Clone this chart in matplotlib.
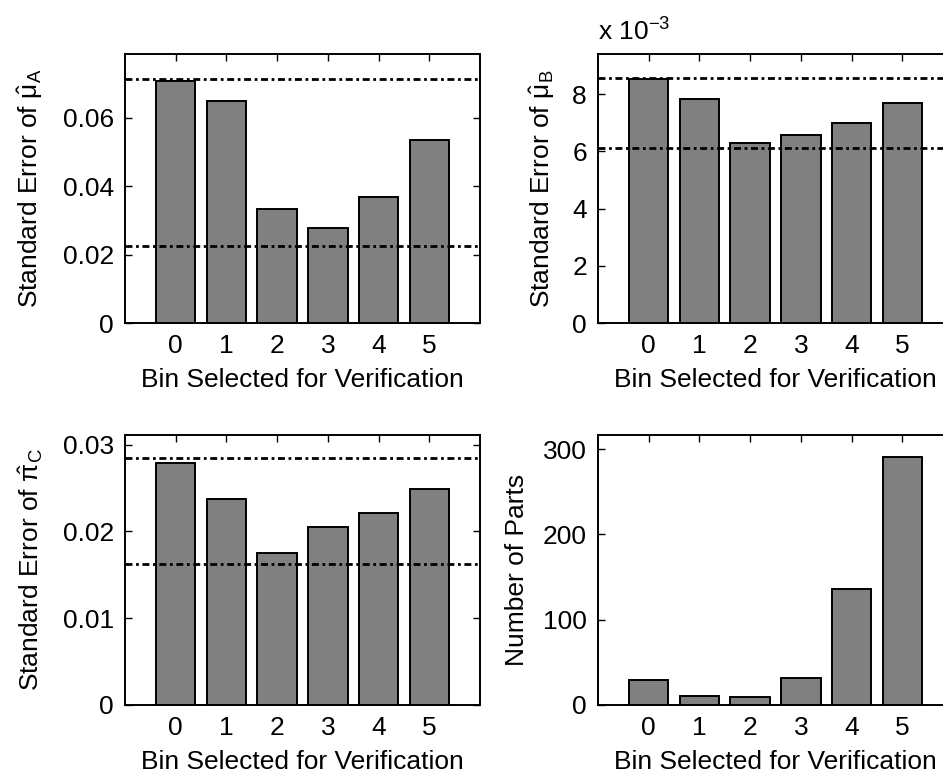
import numpy as np
import matplotlib
matplotlib.use("Agg")
import matplotlib.pyplot as plt

plt.rcParams['font.family'] = ['Liberation Sans', 'DejaVu Sans']
plt.rcParams['mathtext.fontset'] = 'custom'
plt.rcParams['mathtext.rm'] = 'Liberation Sans'
plt.rcParams['mathtext.it'] = 'Liberation Sans'
plt.rcParams['font.size'] = 19

bins = [0, 1, 2, 3, 4, 5]

# standard errors per bin selected for verification
se_muA = [0.0707, 0.0649, 0.0332, 0.0279, 0.0367, 0.0536]
se_muB = [8.53e-3, 7.83e-3, 6.28e-3, 6.57e-3, 6.98e-3, 7.68e-3]
se_piC = [0.02788, 0.02372, 0.0175, 0.0205, 0.0221, 0.0249]
n_parts = [29, 11, 9, 32, 136, 291]

# reference lines (upper / lower)
ref_muA = [0.0714, 0.0225]
ref_muB = [8.55e-3, 6.11e-3]
ref_piC = [0.0284, 0.01626]

fig = plt.figure(figsize=(9.43, 7.76), dpi=100)

W = 355 / 943
H_ = 269 / 776
ax1 = fig.add_axes([125 / 943, 1 - 323 / 776, W, H_])
ax2 = fig.add_axes([598 / 943, 1 - 323 / 776, W, H_])
ax3 = fig.add_axes([125 / 943, 1 - 705 / 776, W, H_ + 1 / 776])
ax4 = fig.add_axes([598 / 943, 1 - 705 / 776, W, H_ + 1 / 776])

dash = (0, (2.5, 1.3, 1, 1.3))


def draw(ax, vals, ylim, yticks, ylabel, refs=None, scale=1.0, lpad=13):
    v = np.array(vals) / scale
    ax.bar(bins, v, width=0.78, color='#808080', edgecolor='black', linewidth=1.4, zorder=2)
    if refs is not None:
        for r in refs:
            ax.axhline(r / scale, color='black', linestyle=dash, linewidth=2.0, zorder=3)
    ax.set_xlim(-1, 6)
    ax.set_ylim(*ylim)
    ax.set_xticks(bins)
    ax.set_yticks(yticks)
    ax.tick_params(direction='in', length=5, width=1, top=True, right=True, pad=8)
    for s in ax.spines.values():
        s.set_linewidth(1.4)
    ax.set_xlabel('Bin Selected for Verification', labelpad=7)
    ax.set_ylabel(ylabel, labelpad=lpad)


draw(ax1, se_muA, (0, 0.0786), [0, 0.02, 0.04, 0.06],
     r'Standard Error of $\hat{\mu}_A$', ref_muA)
ax1.set_yticklabels(['0', '0.02', '0.04', '0.06'])

draw(ax2, se_muB, (0, 9.4), [0, 2, 4, 6, 8],
     r'Standard Error of $\hat{\mu}_B$', ref_muB, scale=1e-3, lpad=11)
ax2.text(0.0, 1.03, r'x 10$^{-3}$', transform=ax2.transAxes, ha='left', va='bottom')

draw(ax3, se_piC, (0, 0.0311), [0, 0.01, 0.02, 0.03],
     r'Standard Error of $\hat{\pi}_C$', ref_piC)
ax3.set_yticklabels(['0', '0.01', '0.02', '0.03'])

draw(ax4, n_parts, (0, 316.5), [0, 100, 200, 300], 'Number of Parts', lpad=10)

fig.savefig('out.png', dpi=100)
